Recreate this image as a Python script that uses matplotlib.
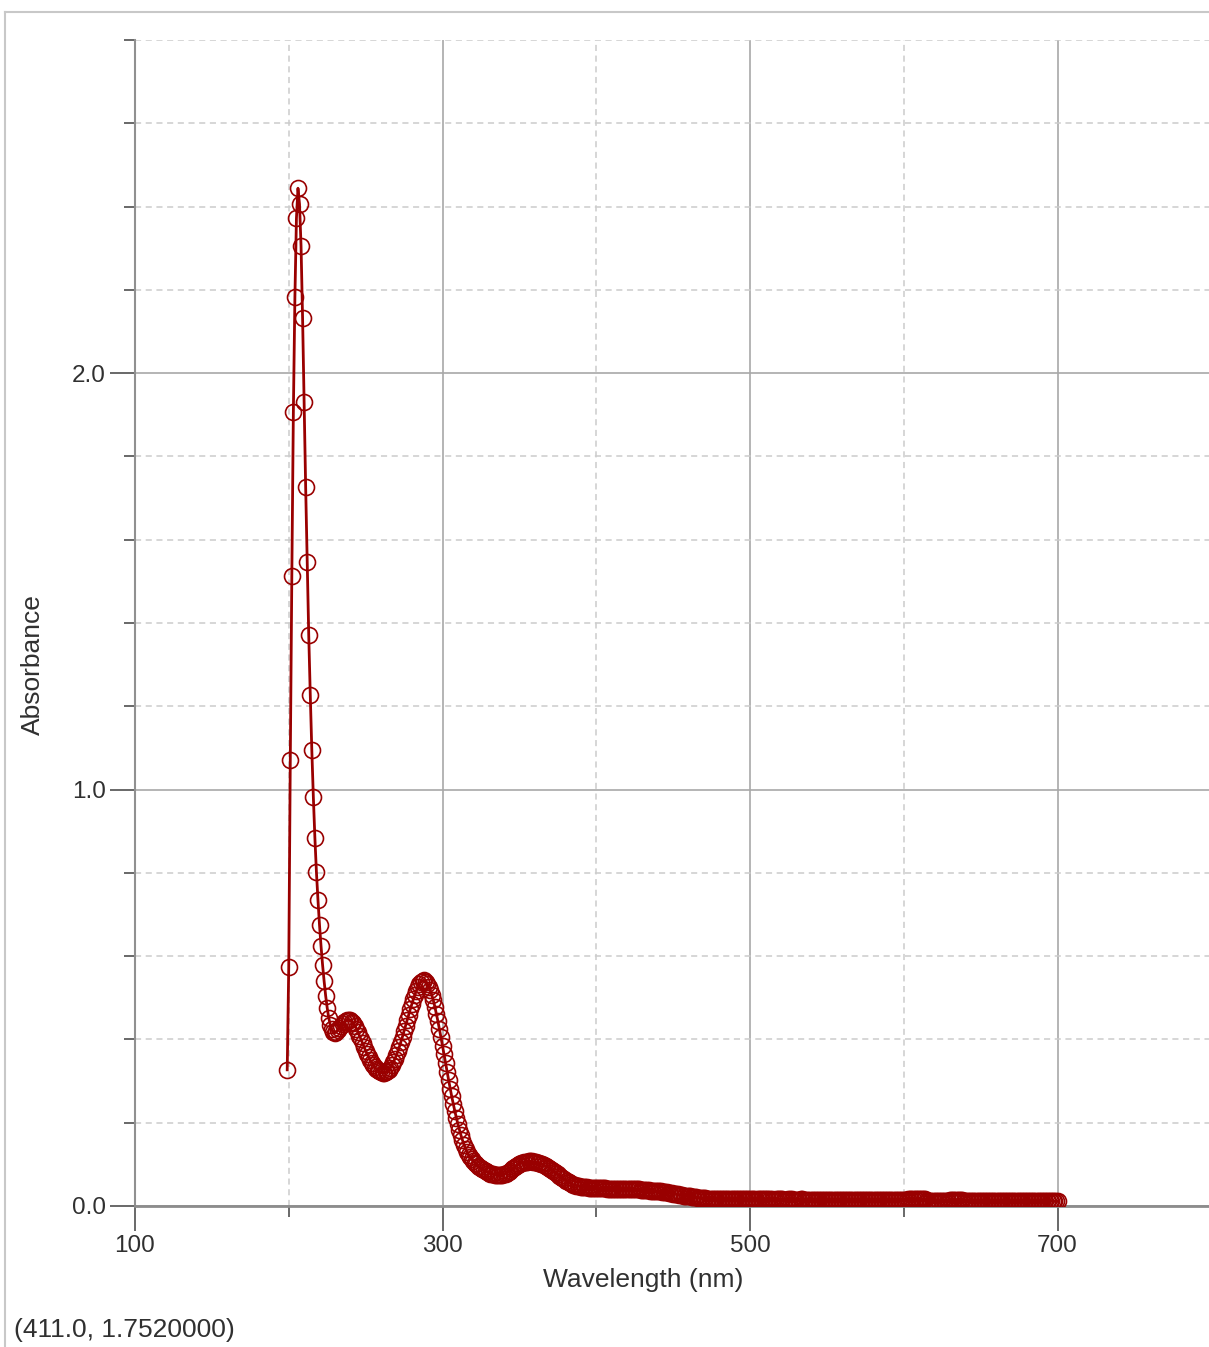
import numpy as np
import matplotlib.pyplot as plt
from matplotlib.lines import Line2D
from matplotlib.ticker import FormatStrFormatter

# constants
DPI = 100
FIG_W, FIG_H = 1209, 1347
plt.rcParams["font.family"] = ["Liberation Sans", "DejaVu Sans"]

RED = "#990000"
TEXT = "#303030"

# data: absorbance spectrum, one reading per nm starting at 199 nm
start_nm = 199
absorbance = [
    0.327, 0.574, 1.071, 1.513, 1.906, 2.182, 2.372, 2.444, 2.406, 2.305,  # 199
    2.132, 1.930, 1.726, 1.546, 1.371, 1.227, 1.095, 0.982, 0.884, 0.802,  # 209
    0.735, 0.675, 0.624, 0.579, 0.540, 0.505, 0.476, 0.452, 0.435, 0.424,  # 219
    0.418, 0.416, 0.418, 0.422, 0.427, 0.432, 0.437, 0.441, 0.444, 0.446,  # 229
    0.447, 0.446, 0.443, 0.439, 0.433, 0.426, 0.418, 0.409, 0.400, 0.391,  # 239
    0.382, 0.373, 0.365, 0.357, 0.350, 0.344, 0.338, 0.333, 0.329, 0.326,  # 249
    0.323, 0.321, 0.320, 0.320, 0.321, 0.323, 0.327, 0.332, 0.338, 0.345,  # 259
    0.353, 0.362, 0.372, 0.383, 0.395, 0.407, 0.420, 0.433, 0.446, 0.459,  # 269
    0.472, 0.484, 0.496, 0.507, 0.517, 0.526, 0.533, 0.538, 0.541, 0.542,  # 279
    0.539, 0.534, 0.527, 0.518, 0.507, 0.494, 0.479, 0.462, 0.444, 0.425,  # 289
    0.405, 0.385, 0.364, 0.343, 0.322, 0.302, 0.282, 0.263, 0.245, 0.228,  # 299
    0.212, 0.197, 0.183, 0.170, 0.158, 0.147, 0.138, 0.130, 0.123, 0.117,  # 309
    0.112, 0.108, 0.104, 0.100, 0.097, 0.094, 0.091, 0.088, 0.086, 0.084,  # 319
    0.082, 0.080, 0.078, 0.077, 0.076, 0.075, 0.074, 0.074, 0.074, 0.074,  # 329
    0.075, 0.076, 0.078, 0.080, 0.082, 0.085, 0.088, 0.091, 0.094, 0.097,  # 339
    0.099, 0.101, 0.103, 0.104, 0.105, 0.106, 0.106, 0.107, 0.107, 0.107,  # 349
    0.106, 0.106, 0.105, 0.104, 0.103, 0.101, 0.100, 0.098, 0.096, 0.094,  # 359
    0.092, 0.090, 0.087, 0.085, 0.082, 0.079, 0.076, 0.073, 0.070, 0.067,  # 369
    0.064, 0.061, 0.059, 0.057, 0.055, 0.053, 0.051, 0.050, 0.049, 0.048,  # 379
    0.047, 0.046, 0.046, 0.045, 0.045, 0.045, 0.044, 0.044, 0.044, 0.044,  # 389
    0.043, 0.043, 0.043, 0.043, 0.043, 0.043, 0.043, 0.043, 0.042, 0.042,  # 399
    0.042, 0.042, 0.042, 0.042, 0.042, 0.042, 0.042, 0.042, 0.041, 0.041,  # 409
    0.041, 0.041, 0.041, 0.041, 0.041, 0.040, 0.040, 0.040, 0.040, 0.040,  # 419
    0.039, 0.039, 0.039, 0.038, 0.038, 0.038, 0.037, 0.037, 0.037, 0.036,  # 429
    0.036, 0.036, 0.035, 0.035, 0.034, 0.034, 0.033, 0.033, 0.032, 0.031,  # 439
    0.031, 0.030, 0.029, 0.029, 0.028, 0.027, 0.026, 0.026, 0.025, 0.024,  # 449
    0.024, 0.023, 0.023, 0.022, 0.022, 0.021, 0.021, 0.020, 0.020, 0.020,  # 459
    0.019, 0.019, 0.019, 0.018, 0.018, 0.018, 0.018, 0.017, 0.017, 0.017,  # 469
    0.017, 0.017, 0.017, 0.017, 0.016, 0.016, 0.016, 0.016, 0.016, 0.016,  # 479
    0.016, 0.016, 0.016, 0.016, 0.016, 0.016, 0.016, 0.016, 0.016, 0.016,  # 489
    0.016, 0.016, 0.016, 0.016, 0.016, 0.015, 0.016, 0.016, 0.016, 0.016,  # 499
    0.016, 0.016, 0.016, 0.016, 0.016, 0.016, 0.015, 0.015, 0.016, 0.016,  # 509
    0.016, 0.016, 0.016, 0.015, 0.015, 0.015, 0.016, 0.016, 0.016, 0.015,  # 519
    0.015, 0.015, 0.015, 0.015, 0.016, 0.016, 0.015, 0.015, 0.015, 0.015,  # 529
    0.015, 0.015, 0.015, 0.015, 0.015, 0.015, 0.015, 0.015, 0.015, 0.015,  # 539
    0.015, 0.015, 0.015, 0.015, 0.015, 0.015, 0.015, 0.015, 0.015, 0.015,  # 549
    0.015, 0.015, 0.015, 0.015, 0.015, 0.015, 0.015, 0.015, 0.015, 0.015,  # 559
    0.015, 0.015, 0.015, 0.015, 0.015, 0.015, 0.015, 0.015, 0.015, 0.015,  # 569
    0.015, 0.015, 0.015, 0.015, 0.015, 0.014, 0.014, 0.014, 0.014, 0.014,  # 579
    0.014, 0.014, 0.014, 0.014, 0.014, 0.014, 0.014, 0.014, 0.014, 0.014,  # 589
    0.014, 0.014, 0.014, 0.014, 0.016, 0.016, 0.016, 0.016, 0.016, 0.016,  # 599
    0.016, 0.016, 0.016, 0.016, 0.016, 0.016, 0.013, 0.013, 0.013, 0.013,  # 609
    0.013, 0.013, 0.013, 0.013, 0.013, 0.013, 0.013, 0.013, 0.013, 0.013,  # 619
    0.013, 0.015, 0.015, 0.015, 0.015, 0.015, 0.015, 0.015, 0.015, 0.015,  # 629
    0.013, 0.013, 0.013, 0.013, 0.013, 0.013, 0.013, 0.013, 0.013, 0.013,  # 639
    0.013, 0.013, 0.013, 0.013, 0.013, 0.012, 0.012, 0.012, 0.012, 0.012,  # 649
    0.012, 0.012, 0.012, 0.012, 0.012, 0.012, 0.012, 0.012, 0.012, 0.012,  # 659
    0.012, 0.012, 0.012, 0.012, 0.012, 0.012, 0.012, 0.012, 0.012, 0.012,  # 669
    0.012, 0.012, 0.012, 0.012, 0.012, 0.012, 0.012, 0.012, 0.012, 0.012,  # 679
    0.012, 0.012, 0.012, 0.012, 0.012, 0.012, 0.012, 0.012, 0.011, 0.011,  # 689
    0.011, 0.011,                                                          # 699
]
wavelength = np.arange(start_nm, start_nm + len(absorbance))

x_major = [100, 300, 500, 700]
x_minor = [200, 400, 600, 800]
y_major = [0.0, 1.0, 2.0]
y_minor = [0.2, 0.4, 0.6, 0.8, 1.2, 1.4, 1.6, 1.8, 2.2, 2.4, 2.6, 2.8]

cursor_text = "(411.0, 1.7520000)"

# --------------------------------------------------------------------------
# figure + axes placed to match the screenshot in pixels
fig = plt.figure(figsize=(FIG_W / DPI, FIG_H / DPI), dpi=DPI)
left, right, top, bottom = 135, 1211.25, 40, 1206
ax = fig.add_axes([left / FIG_W, 1 - bottom / FIG_H,
                   (right - left) / FIG_W, (bottom - top) / FIG_H])

ax.plot(wavelength, absorbance, color=RED, lw=2.0, marker="o", ms=11.5,
        mfc="none", mec=RED, mew=1.2, zorder=3)

ax.set_xlim(100, 800)
ax.set_ylim(0, 2.8)

# --------------------------------------------------------------------------
# ticks and grid
ax.set_xticks(x_major)
ax.set_xticks(x_minor, minor=True)
ax.set_yticks(y_major)
ax.set_yticks(y_minor, minor=True)
ax.yaxis.set_major_formatter(FormatStrFormatter("%.1f"))
ax.xaxis.set_major_formatter(FormatStrFormatter("%d"))

ax.tick_params(which="major", direction="out", length=18, width=1.1,
               color="#404040", labelsize=17.5, labelcolor=TEXT, pad=3)
ax.tick_params(which="minor", direction="out", length=8, width=1.1,
               color="#404040")

ax.grid(which="major", color="#a8a8a8", lw=1.2, ls="-", zorder=0)
ax.grid(which="minor", color="#cccccc", lw=1.1, ls=(0, (4, 3)), zorder=0)
ax.set_axisbelow(True)

for side in ["top", "right"]:
    ax.spines[side].set_visible(False)
ax.spines["left"].set_color("#909090")
ax.spines["left"].set_linewidth(1.5)
ax.spines["bottom"].set_color("#8c8c8c")
ax.spines["bottom"].set_linewidth(2.0)

# --------------------------------------------------------------------------
# labels
fig.text(33 / FIG_W, 1 - 665 / FIG_H, "Absorbance", rotation=90,
         ha="center", va="center", fontsize=19, color=TEXT)
fig.text(643 / FIG_W, 1 - 1280 / FIG_H, "Wavelength (nm)",
         ha="center", va="center", fontsize=19, color=TEXT)
fig.text(14 / FIG_W, 1 - 1330 / FIG_H, cursor_text,
         ha="left", va="center", fontsize=19, color=TEXT)

# window frame of the screenshot
fig.add_artist(Line2D([5 / FIG_W, 5 / FIG_W], [0, 1 - 12 / FIG_H],
                      color="#c8c8c8", lw=1.5))
fig.add_artist(Line2D([5 / FIG_W, 1], [1 - 12 / FIG_H, 1 - 12 / FIG_H],
                      color="#c8c8c8", lw=1.5))

fig.savefig("out.png", dpi=DPI)
plt.close(fig)
